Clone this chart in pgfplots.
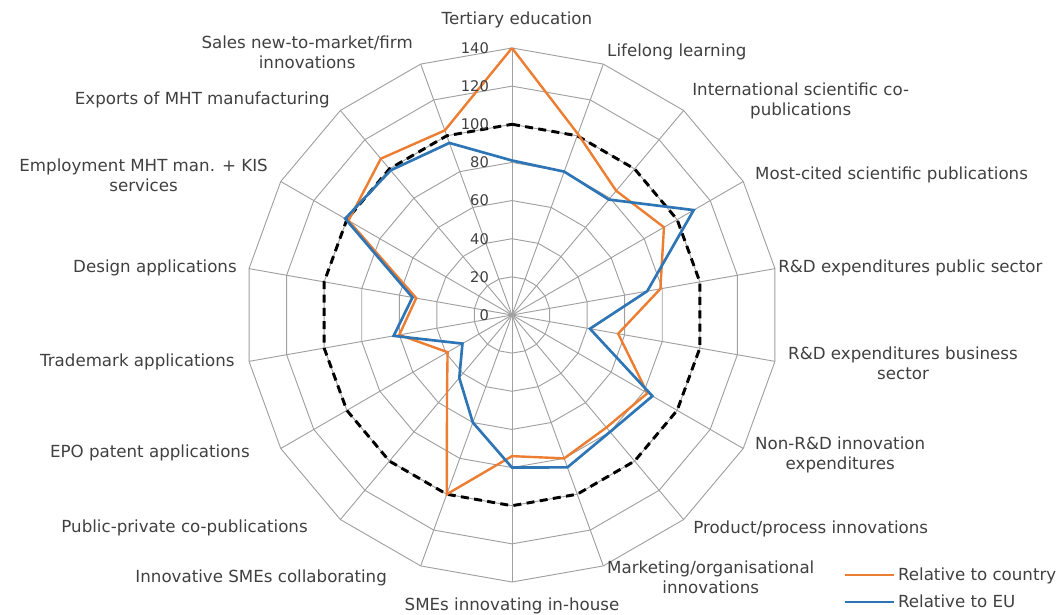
\documentclass[border=0pt]{standalone}
\usepackage{pgfplots}
\pgfplotsset{compat=1.18}
\usepackage{fontspec}
\setmainfont{DejaVu Sans}

\definecolor{country}{HTML}{ED7D31}
\definecolor{eu}{HTML}{2E75B6}
\definecolor{gridgray}{HTML}{A0A0A0}
\definecolor{labgray}{HTML}{404040}

\tikzset{
    lab/.style={inner sep=0pt, text=labgray, align=center, font=\fontsize{12.5}{15}\selectfont},
    gridline/.style={gridgray, line width=0.7pt},
}

\begin{document}
\begin{tikzpicture}
\begin{axis}[
    hide axis,
    x=1.4304pt, y=1.4304pt,
    xmin=-140, xmax=140, ymin=-140, ymax=140,
    clip=false,
    legend style={draw=none, fill=none, at={(1.12,0.032)}, anchor=north west,
        inner sep=0pt, row sep=5pt, font=\fontsize{12.5}{15}\selectfont, text=labgray},
    legend cell align=left,
    legend image code/.code={\draw[#1] (0pt,0pt) -- (37pt,0pt);},
]

% polygon grid
\pgfplotsinvokeforeach{20,40,...,140}{
  \addplot[gridline, forget plot, data cs=polar] coordinates {(90,#1) (70,#1) (50,#1) (30,#1) (10,#1) (-10,#1) (-30,#1) (-50,#1) (-70,#1) (-90,#1) (-110,#1) (-130,#1) (-150,#1) (-170,#1) (170,#1) (150,#1) (130,#1) (110,#1) (90,#1)};
}
\pgfplotsinvokeforeach{90,70,...,-250}{
  \addplot[gridline, forget plot, data cs=polar] coordinates {(#1,0) (#1,140)};
}

% EU average = 100
\addplot[black, line width=2.2pt, dash pattern=on 6pt off 4pt, data cs=polar, forget plot] coordinates {(90,100) (70,100) (50,100) (30,100) (10,100) (-10,100) (-30,100) (-50,100) (-70,100) (-90,100) (-110,100) (-130,100) (-150,100) (-170,100) (170,100) (150,100) (130,100) (110,100) (90,100)};

% Relative to country
\addplot[country, line width=1.8pt, data cs=polar] coordinates {
    (90,140) (70,101) (50,85) (30,92) (10,79) (-10,56.5) (-30,82) (-50,77) (-70,80)
    (-90,74) (-110,100) (-130,53) (-150,39) (-170,60) (170,51) (150,99) (130,107) (110,103) (90,140)};
% Relative to EU
\addplot[eu, line width=2pt, data cs=polar] coordinates {
    (90,81) (70,80) (50,79) (30,110) (10,72) (-10,41.5) (-30,85) (-50,80) (-70,85)
    (-90,80) (-110,60) (-130,43) (-150,30) (-170,63) (170,53) (150,101) (130,99) (110,96) (90,81)};
\legend{Relative to country, Relative to EU}

% value labels
\pgfplotsinvokeforeach{0,20,...,140}{
  \node[lab, anchor=east, font=\fontsize{11}{13}\selectfont] at (axis cs:-12,#1) {#1};
}

% category labels
\node[lab] at (axis cs:2.6,154.7) {Tertiary education};
\node[lab, anchor=west] at (axis cs:49.8,137.9) {Lifelong learning};
\node[lab, anchor=west] at (axis cs:94.4,112.2) {International scientific co-\\publications};
\node[lab, anchor=west] at (axis cs:127.4,73.4) {Most-cited scientific publications};
\node[lab, anchor=west] at (axis cs:139.5,24.6) {R\&D expenditures public sector};
\node[lab, anchor=west] at (axis cs:144.7,-25.2) {R\&D expenditures business\\sector};
\node[lab, anchor=west] at (axis cs:127.4,-73.4) {Non-R\&D innovation\\expenditures};
\node[lab, anchor=west] at (axis cs:94.9,-112.2) {Product/process innovations};
\node[lab, anchor=west] at (axis cs:49.8,-137.6) {Marketing/organisational\\innovations};
\node[lab] at (axis cs:0,-152.6) {SMEs innovating in-house};
\node[lab, anchor=east] at (axis cs:-65.5,-137.9) {Innovative SMEs collaborating};
\node[lab, anchor=east] at (axis cs:-107,-111.7) {Public-private co-publications};
\node[lab, anchor=east] at (axis cs:-137.4,-72.4) {EPO patent applications};
\node[lab, anchor=east] at (axis cs:-145.3,-24.6) {Trademark applications};
\node[lab, anchor=east] at (axis cs:-144.2,24.6) {Design applications};
\node[lab, anchor=east] at (axis cs:-127.9,73.4) {Employment MHT man. + KIS\\services};
\node[lab, anchor=east] at (axis cs:-95.4,112.7) {Exports of MHT manufacturing};
\node[lab, anchor=east] at (axis cs:-51.9,137.9) {Sales new-to-market/firm\\innovations};

\coordinate (c) at (axis cs:0,0);
\end{axis}
\pgfresetboundingbox
\path[shift={(c)}] (-384pt,-224.25pt) rectangle (410.25pt,236.25pt);
\end{tikzpicture}
\end{document}
